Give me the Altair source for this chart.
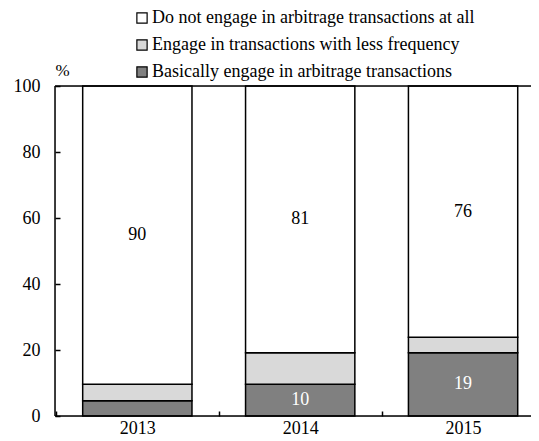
import altair as alt
import pandas as pd

years = ["2013", "2014", "2015"]
series = [
    "Do not engage in arbitrage transactions at all",
    "Engage in transactions with less frequency",
    "Basically engage in arbitrage transactions",
]
colors = ["#ffffff", "#d9d9d9", "#808080"]
basically = [4.6, 9.6, 19.2]
less = [5.0, 9.6, 4.7]
not_at_all = [90.4, 80.8, 76.1]
label_basic = ["", "10", "19"]
label_not = ["90", "81", "76"]

rows = []
for i, y in enumerate(years):
    b, l, n = basically[i], less[i], not_at_all[i]
    rows.append(dict(year=y, series=series[2], value=b, order=0, mid=b / 2,
                     label=label_basic[i], tcolor="white"))
    rows.append(dict(year=y, series=series[1], value=l, order=1, mid=b + l / 2,
                     label="", tcolor="black"))
    rows.append(dict(year=y, series=series[0], value=n, order=2, mid=b + l + n / 2,
                     label=label_not[i], tcolor="black"))
df = pd.DataFrame(rows)

FONT = "'Liberation Serif', 'Times New Roman', serif"
W, H = 476, 330
RANGE_W = 490.4
P_IN, P_OUT = 0.329, 0.17
STEP = RANGE_W / (len(years) - P_IN + 2 * P_OUT)
HALF_GAP = STEP * P_IN / 2

xscale = alt.Scale(domain=years, range=[0, RANGE_W], paddingInner=P_IN, paddingOuter=P_OUT)
yscale = alt.Scale(domain=[0, 100], nice=False)

bars = alt.Chart(df).mark_bar(stroke="black", strokeWidth=1.5).encode(
    x=alt.X("year:N", scale=xscale, title=None,
            axis=alt.Axis(labelAngle=0, domain=False, offset=-5, tickSize=5,
                          bandPosition=0, tickOffset=-HALF_GAP, labelOffset=HALF_GAP,
                          tickWidth=1.5, tickColor="black",
                          labelPadding=3, labelFontSize=18, labelFont=FONT,
                          labelColor="black")),
    y=alt.Y("value:Q", scale=yscale, stack="zero",
            axis=alt.Axis(values=[0, 20, 40, 60, 80, 100], domain=False, offset=-5,
                          tickSize=5, tickWidth=1.5, tickColor="black",
                          labelPadding=15, labelFontSize=18, labelFont=FONT,
                          labelColor="black", grid=False,
                          title="%", titleAngle=0, titleX=2, titleY=-16,
                          titleAlign="center", titleBaseline="middle",
                          titleFont=FONT, titleFontSize=17, titleFontWeight="normal",
                          titleColor="black")),
    fill=alt.Fill("series:N", scale=alt.Scale(domain=series, range=colors),
                  legend=alt.Legend(title=None, orient="none", legendX=78, legendY=-77,
                                    symbolType="square", symbolSize=105,
                                    symbolStrokeColor="black", symbolStrokeWidth=1.2,
                                    labelFont=FONT, labelFontSize=18, labelColor="black",
                                    labelOffset=1, rowPadding=9, padding=0,
                                    labelLimit=500)),
    order=alt.Order("order:Q", sort="ascending"),
)

texts = alt.Chart(df).mark_text(font=FONT, fontSize=18, baseline="middle").encode(
    x=alt.X("year:N", scale=xscale),
    y=alt.Y("mid:Q", scale=yscale),
    text="label:N",
    color=alt.Color("tcolor:N", scale=None),
)

hlines = alt.Chart(pd.DataFrame({"v": [0, 100]})).mark_rule(
    color="black", strokeWidth=1.5).encode(
    y=alt.Y("v:Q", scale=yscale), x=alt.value(0), x2=alt.value(RANGE_W))

vline = alt.Chart(pd.DataFrame({"v": [0]})).mark_rule(
    color="black", strokeWidth=1.5).encode(
    x=alt.value(0), y=alt.value(0), y2=alt.value(H))

chart = alt.layer(bars, texts, hlines, vline).properties(
    width=W, height=H,
    autosize=alt.AutoSizeParams(type="none"),
    padding={"left": 47, "top": 78, "right": 0, "bottom": 25},
).configure_view(stroke=None).configure(background="white", font=FONT)

chart.save("out.html", embed_options={"renderer": "svg", "actions": False})
